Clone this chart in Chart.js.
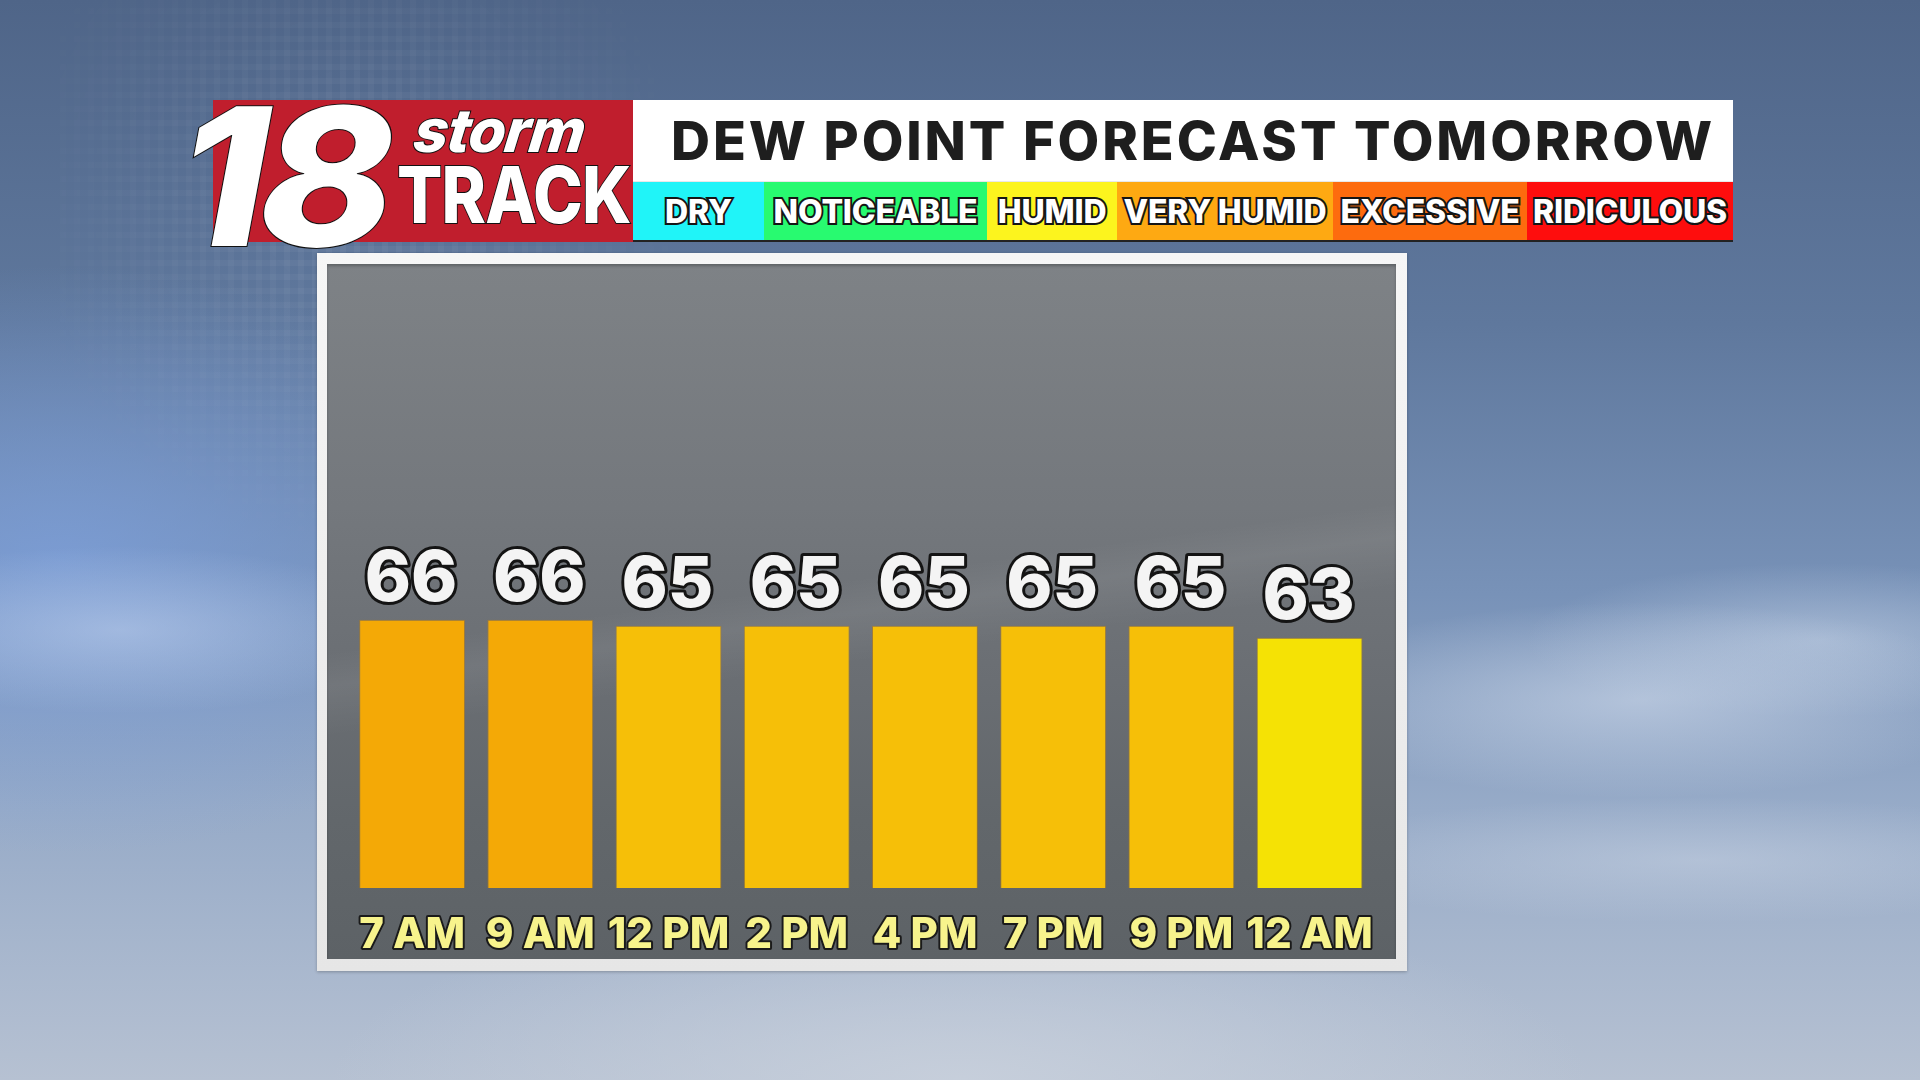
<!DOCTYPE html>
<html>
<head>
<meta charset="utf-8">
<script src="https://cdn.jsdelivr.net/npm/chart.js@4.4.1/dist/chart.umd.min.js"></script>
<style>
  html, body { margin: 0; padding: 0; }
  body {
    width: 1920px; height: 1080px; overflow: hidden; position: relative;
    font-family: Inter, "Open Sans", sans-serif;
    background:
      radial-gradient(ellipse 520px 140px at 1640px 700px, rgba(215,225,240,0.55), rgba(215,225,240,0) 70%),
      radial-gradient(ellipse 420px 110px at 1820px 640px, rgba(210,222,238,0.45), rgba(210,222,238,0) 70%),
      radial-gradient(ellipse 600px 90px at 1700px 860px, rgba(205,215,230,0.45), rgba(205,215,230,0) 70%),
      radial-gradient(ellipse 420px 120px at 120px 630px, rgba(205,220,245,0.45), rgba(205,220,245,0) 70%),
      radial-gradient(ellipse 700px 420px at 60px 560px, rgba(125,160,220,0.75), rgba(125,160,220,0) 70%),
      radial-gradient(ellipse 900px 260px at 960px 1080px, rgba(200,208,220,0.9), rgba(200,208,220,0) 70%),
      linear-gradient(180deg, #4f6588 0%, #5f789d 30%, #7892b8 55%, #97abc8 75%, #b6c1d2 100%);
  }
  .grid {
    position: absolute; left: 60px; top: 0; width: 640px; height: 560px;
    background:
      repeating-linear-gradient(90deg, rgba(255,255,255,0.05) 0 6px, rgba(255,255,255,0) 6px 14px),
      repeating-linear-gradient(0deg, rgba(255,255,255,0.05) 0 6px, rgba(255,255,255,0) 6px 14px);
    -webkit-mask-image: radial-gradient(ellipse at 45% 35%, #000 0%, rgba(0,0,0,0) 70%);
  }
  .logo {
    position: absolute; left: 213px; top: 100px; width: 420px; height: 142px;
    background: #c01e2d;
  }
  .logo span { position: absolute; color: #fff; -webkit-text-stroke: 2px #111; paint-order: stroke fill; white-space: nowrap; }
  .n18 { left: -10px; top: -40px; font-size: 192px; font-weight: 800; transform-origin: left top; transform: scaleX(1.06) skewX(-10deg); letter-spacing: -8px; }
  .storm { left: 207px; top: -6px; font-size: 60px; font-weight: 800; font-style: italic; transform-origin: left top; transform: skewX(-8deg); letter-spacing: -1px; }
  .track { left: 184px; top: 46px; font-size: 79px; font-weight: 800; transform-origin: left top; transform: scaleX(0.85); letter-spacing: -1px; }
  .title {
    position: absolute; left: 633px; top: 100px; width: 1100px; height: 81px;
    background: #fff; color: #1e1e1e; box-sizing: border-box;
    font-size: 54px; font-weight: 800; line-height: 81px; letter-spacing: 2.9px;
    text-align: center; padding-left: 20px; white-space: nowrap;
  }
  .strip {
    position: absolute; left: 633px; top: 181px; width: 1100px; height: 61px;
    display: flex; border-top: 1px solid #e8e8e8; box-sizing: border-box;
    border-bottom: 2px solid #222;
  }
  .strip div {
    height: 100%; display: flex; align-items: center; justify-content: center;
    color: #fff; font-size: 32px; font-weight: 800; -webkit-text-stroke: 4px #151515;
    paint-order: stroke fill; white-space: nowrap; letter-spacing: -0.2px;
  }
  .panel {
    position: absolute; left: 317px; top: 253px; width: 1090px; height: 718px;
    background: linear-gradient(180deg, #f6f6f6, #e6e6e6);
    box-shadow: 0 1px 3px rgba(0,0,0,0.25);
  }
  .inner {
    position: absolute; left: 10px; top: 11px; width: 1069px; height: 695px;
    background:
      linear-gradient(172deg, rgba(255,255,255,0) 46%, rgba(255,255,255,0.06) 50%, rgba(255,255,255,0) 56%),
      linear-gradient(180deg, #7e8286 0%, #74787d 35%, #6a6e73 60%, #62676b 80%, #5d6266 100%);
    box-shadow: inset 0 2px 3px rgba(0,0,0,0.25);
  }
  canvas { position: absolute; left: 0; top: 0; }
</style>
</head>
<body>
<div class="grid"></div>
<div class="logo">
  <span class="n18">18</span>
  <span class="storm">storm</span>
  <span class="track">TRACK</span>
</div>
<div class="title">DEW POINT FORECAST TOMORROW</div>
<div class="strip" id="strip"></div>
<div class="panel"><div class="inner"><canvas id="chart" width="1069" height="695"></canvas></div></div>

<script>
// forecast hours and dew points (°F)
const hours = ['7 AM', '9 AM', '12 PM', '2 PM', '4 PM', '7 PM', '9 PM', '12 AM'];
const dewPoints = [66, 66, 65, 65, 65, 65, 65, 63];

// comfort scale shown under the title
const scaleNames = ['DRY', 'NOTICEABLE', 'HUMID', 'VERY HUMID', 'EXCESSIVE', 'RIDICULOUS'];
const scaleColors = ['#20f4f8', '#28fa70', '#fcf41e', '#fea912', '#fd6b0e', '#fe0d0d'];
const scaleWidths = [131, 223, 130, 216, 194, 206];

const strip = document.getElementById('strip');
scaleNames.forEach((name, i) => {
  const d = document.createElement('div');
  d.textContent = name;
  d.style.background = scaleColors[i];
  d.style.width = scaleWidths[i] + 'px';
  strip.appendChild(d);
});

// bar colour goes from yellow to orange as the dew point climbs
function barColor(v) {
  if (v >= 66) return '#f4a906';
  if (v >= 65) return '#f6bf08';
  if (v >= 64) return '#f6d006';
  return '#f5e205';
}

// round joins so the outlined tick text has no miter spikes
const roundJoins = {
  id: 'roundJoins',
  beforeDraw(chart) { chart.ctx.lineJoin = 'round'; }
};

const valueLabels = {
  id: 'valueLabels',
  afterDatasetsDraw(chart) {
    const ctx = chart.ctx;
    const meta = chart.getDatasetMeta(0);
    ctx.save();
    ctx.font = '800 70px Inter';
    ctx.textAlign = 'center';
    ctx.textBaseline = 'alphabetic';
    ctx.lineJoin = 'round';
    meta.data.forEach((bar, i) => {
      const t = String(dewPoints[i]);
      const y = bar.y - 19;
      ctx.lineWidth = 6;
      ctx.strokeStyle = '#141414';
      ctx.strokeText(t, bar.x - 1, y);
      ctx.fillStyle = '#f4f4f4';
      ctx.fillText(t, bar.x - 1, y);
    });
    ctx.restore();
  }
};

const ctx = document.getElementById('chart').getContext('2d');
new Chart(ctx, {
  type: 'bar',
  data: {
    labels: hours,
    datasets: [{
      data: dewPoints,
      backgroundColor: dewPoints.map(barColor),
      borderColor: 'rgba(200,130,0,0.5)',
      borderWidth: 1,
      borderSkipped: false,
      barPercentage: 0.826,
      categoryPercentage: 1
    }]
  },
  options: {
    responsive: false,
    animation: false,
    devicePixelRatio: 1,
    layout: { padding: { left: 21, right: 19, top: 18, bottom: 0 } },
    plugins: { legend: { display: false }, tooltip: { enabled: false } },
    scales: {
      x: {
        grid: { display: false, drawTicks: false },
        border: { display: false },
        ticks: {
          color: '#f7f38c',
          font: { family: 'Inter', weight: 800, size: 42 },
          textStrokeColor: '#1a1a1a',
          textStrokeWidth: 4,
          padding: 22,
          maxRotation: 0,
          autoSkip: false
        },
        afterFit(scale) { scale.height = 71; }
      },
      y: { display: false, min: 21.3, max: 122.3 }
    }
  },
  plugins: [roundJoins, valueLabels]
});
</script>
</body>
</html>
